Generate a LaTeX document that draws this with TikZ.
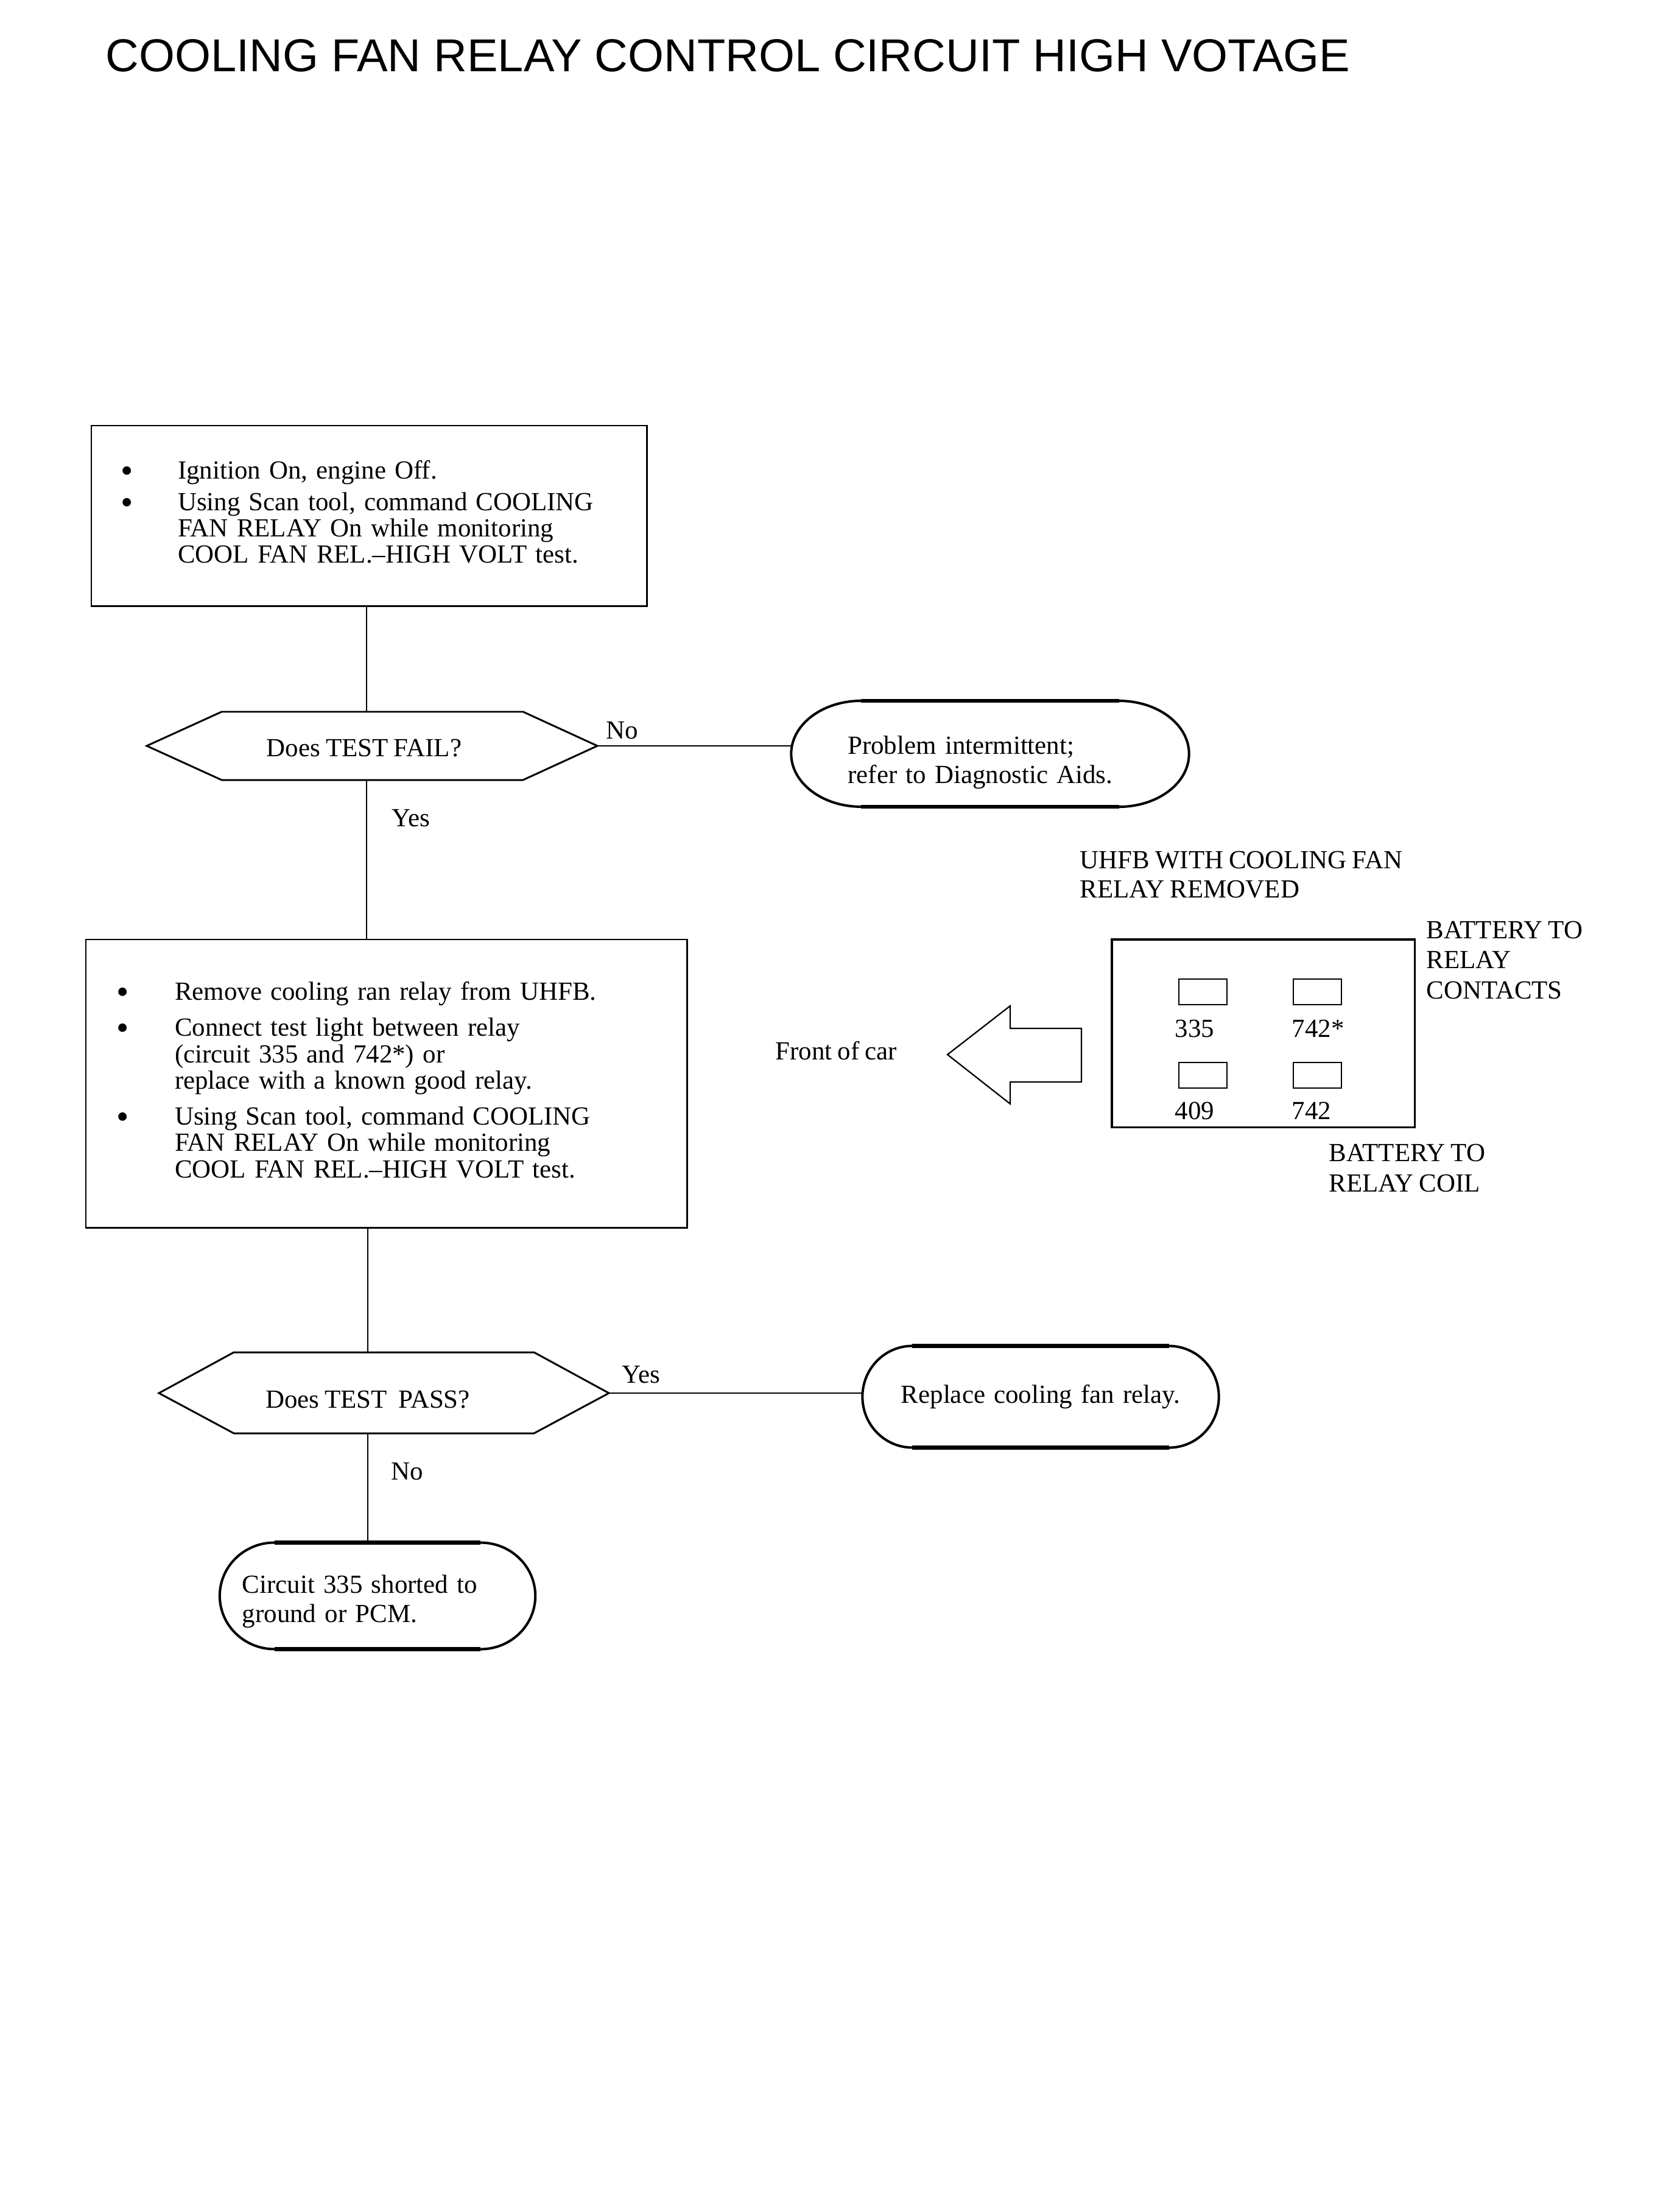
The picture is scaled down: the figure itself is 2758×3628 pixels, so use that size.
\documentclass[tikz,border=0pt]{standalone}
\usepackage{fontspec}
\setmainfont[WordSpace=0.85]{Liberation Serif}
\newfontfamily\headfont{Liberation Sans}
\usetikzlibrary{calc, positioning}

\newcommand{\bodyfont}{\fontsize{12.2pt}{12.3pt}\selectfont}
\newcommand{\termfont}{\fontsize{12.2pt}{13.7pt}\selectfont}
\newcommand{\blt}{\smash{\raisebox{-0.14em}{\scalebox{1.35}{\textbullet}}}}

% terminal outline round a node: name, x radius, y radius
\newcommand{\stadium}[3]{%
  \draw[termside] ($(#1.north west)+(#2,0)$)
    arc[start angle=90, end angle=270, x radius=#2, y radius=#3]
    -- ($(#1.south east)+(-#2,0)$)
    arc[start angle=-90, end angle=90, x radius=#2, y radius=#3] -- cycle;
  \draw[termcap] ($(#1.north west)+(#2,0)$) -- ($(#1.north east)+(-#2,0)$)
    ($(#1.south west)+(#2,0)$) -- ($(#1.south east)+(-#2,0)$);}

\tikzset{
  flow/.style={line width=0.5pt},
  stepbox/.style={draw, line width=0.8pt, anchor=north west, align=left,
    inner ysep=0pt, outer sep=0pt},
  query/.style={line width=0.85pt},
  termbox/.style={inner ysep=0pt, outer sep=0pt, font=\termfont},
  termside/.style={line width=1.15pt},
  termcap/.style={line width=1.8pt},
  cavity/.style={draw, line width=0.6pt, anchor=north west, inner sep=0pt,
    outer sep=0pt, minimum width=0.79cm, minimum height=0.42cm},
  tag/.style={anchor=base west, inner sep=0pt, align=left},
}

\begin{document}
\begin{tikzpicture}[x=0.01cm, y=0.01cm, font=\bodyfont]
\useasboundingbox (0,0) rectangle (2758,-3628);

% Title
\node[anchor=base west, inner sep=0pt,
  font=\headfont\fontsize{21.55pt}{21.55pt}\selectfont] (title) at (173,-118)
  {COOLING FAN RELAY CONTROL CIRCUIT HIGH VOTAGE};

% First step
\node[stepbox, text width=8.16cm, inner xsep=0.48cm, minimum height=2.96cm] (box1) at (150,-699) {%
\begin{tabular}{@{}p{0.94cm}@{}l@{}}
\blt & Ignition On, engine Off.\\[0.08cm]
\blt & Using Scan tool, command COOLING\\
 & FAN RELAY On while monitoring\\
 & COOL FAN REL.--HIGH VOLT test.
\end{tabular}};

% Decision 1
\coordinate (q1w) at (241,-1225);
\coordinate (q1e) at (981,-1225);
\coordinate (q1n) at (602,-1169);
\coordinate (q1s) at (602,-1281);
\draw[query] (q1w) -- (364,-1169) -- (859,-1169) -- (q1e) -- (859,-1281) -- (364,-1281) -- cycle;
\node[anchor=base, inner sep=0pt] (q1) at (598,-1242) {Does TEST FAIL?};

% Problem intermittent
\node[termbox, text width=4.67cm, inner xsep=0.93cm, minimum height=1.74cm, align=left,
  text height=0.6cm, text depth=0.6cm] (t1) at (1626,-1238)
  {Problem intermittent;\\refer to Diagnostic Aids.};
\stadium{t1}{115}{87}

% Second step
\node[stepbox, text width=8.87cm, inner xsep=0.5cm, minimum height=4.73cm] (box2) at (141,-1543) {%
\begin{tabular}{@{}p{0.96cm}@{}l@{}}
\blt & Remove cooling ran relay from UHFB.\\[0.16cm]
\blt & Connect test light between relay\\
 & (circuit 335 and 742*) or\\
 & replace with a known good relay.\\[0.16cm]
\blt & Using Scan tool, command COOLING\\
 & FAN RELAY On while monitoring\\
 & COOL FAN REL.--HIGH VOLT test.
\end{tabular}};

% Decision 2
\coordinate (q2w) at (261,-2288);
\coordinate (q2e) at (1000,-2288);
\coordinate (q2n) at (604,-2221);
\coordinate (q2s) at (604,-2354);
\draw[query] (q2w) -- (384,-2221) -- (877,-2221) -- (q2e) -- (877,-2354) -- (384,-2354) -- cycle;
\node[anchor=base, inner sep=0pt] (q2) at (604,-2312) {Does TEST~~PASS?};

% End boxes
\node[termbox, text width=5.85cm, inner xsep=0pt, minimum height=1.67cm, align=center] (t2) at (1709,-2294)
  {Replace cooling fan relay.};
\stadium{t2}{82}{83.5}

\node[termbox, text width=4.44cm, inner xsep=0.37cm, minimum height=1.75cm, align=left,
  text height=0.55cm, text depth=0.65cm] (t3) at (620,-2621)
  {Circuit 335 shorted to\\ground or PCM.};
\stadium{t3}{90}{87.5}

% Connectors
\draw[flow] (box1.south -| q1n) -- (q1n);
\draw[flow] (q1s) -- (q1s |- box2.north);
\draw[flow] (q1e) -- (q1e -| t1.west);
\draw[flow] (box2.south -| q2n) -- (q2n);
\draw[flow] (q2e) -- (q2e -| t2.west);
\draw[flow] (q2s) -- (q2s |- t3.north);

% Answers
\node[tag] (no1) at (995,-1213) {No};
\node[tag] (yes1) at (643,-1357) {Yes};
\node[tag] (yes2) at (1021,-2271) {Yes};
\node[tag] (no2) at (642,-2430) {No};

% Relay block
\node[tag, font=\fontsize{12.2pt}{13.4pt}\selectfont] (uhfb) at (1773,-1474)
  {UHFB WITH COOLING FAN\\RELAY REMOVED};
\node[draw, line width=0.95pt, anchor=north west, minimum width=4.97cm, minimum height=3.08cm,
  outer sep=0pt] (fusebox) at (1826,-1543) {};
\node[cavity] (cav1) at (1936,-1608) {};
\node[cavity] (cav2) at (2124,-1608) {};
\node[cavity] (cav3) at (1936,-1745) {};
\node[cavity] (cav4) at (2124,-1745) {};
\node[tag] (c335) at (1929,-1703) {335};
\node[tag] (c742s) at (2121,-1703) {742*};
\node[tag] (c409) at (1929,-1838) {409};
\node[tag] (c742) at (2121,-1838) {742};
\node[tag, font=\fontsize{12.2pt}{14pt}\selectfont] (contacts) at (2342,-1640)
  {BATTERY TO\\RELAY\\CONTACTS};
\node[tag, font=\fontsize{12.2pt}{14pt}\selectfont] (coil) at (2182,-1957)
  {BATTERY TO\\RELAY COIL};

% Front of car arrow
\draw[line width=0.65pt] (1556,-1732) -- (1659,-1652) -- (1659,-1689) -- (1776,-1689)
  -- (1776,-1777) -- (1659,-1777) -- (1659,-1813) -- cycle;
\node[tag] (front) at (1273,-1740) {Front of car};

\end{tikzpicture}
\end{document}
